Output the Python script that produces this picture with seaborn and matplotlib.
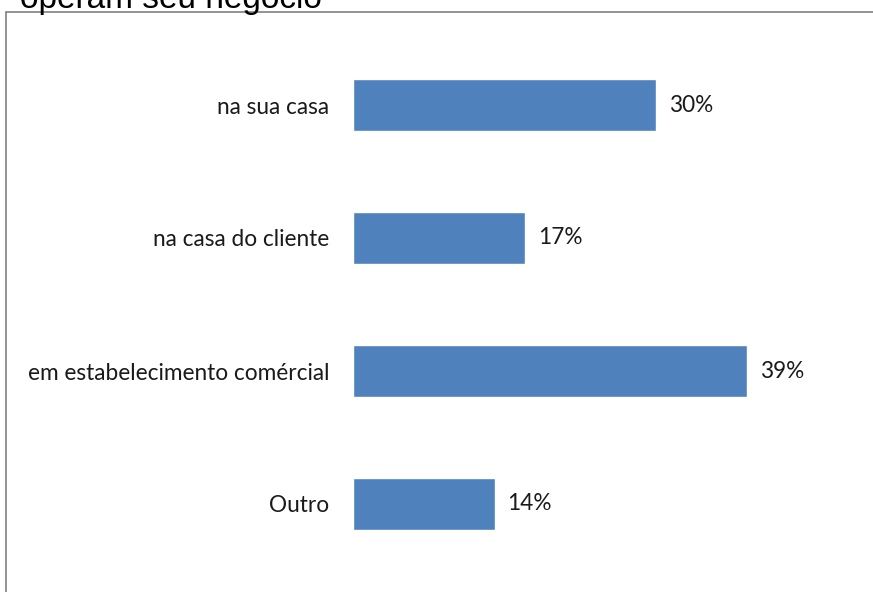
import matplotlib
matplotlib.use("Agg")
import matplotlib.pyplot as plt
import seaborn as sns
import pandas as pd
from matplotlib.patches import Rectangle

# data
categories = ["na sua casa", "na casa do cliente", "em estabelecimento comércial", "Outro"]
values = [30, 17, 39, 14]
value_labels = ["30%", "17%", "39%", "14%"]
title = "operam seu negócio"

df = pd.DataFrame({"local": categories, "pct": values})

sns.set_theme(style="white")
plt.rcParams["font.family"] = ["Lato", "DejaVu Sans"]

W, H = 873, 592
fig = plt.figure(figsize=(W / 100, H / 100), dpi=100)
fig.patch.set_facecolor("white")

# plot area placed in pixel terms
ax = fig.add_axes([353 / W, 1 - 570.5 / H, 457 / W, 532 / H])
sns.barplot(data=df, x="pct", y="local", color="#4F81BD", saturation=1,
            width=0.39, orient="h", ax=ax)

ax.set_xlim(0, 45.2)
ax.set_ylim(3.5, -0.5)
ax.set_xlabel("")
ax.set_ylabel("")
ax.set_xticks([])
for s in ax.spines.values():
    s.set_visible(False)
ax.tick_params(axis="y", length=0, pad=17, labelsize=16.3, labelcolor="#1a1a1a")
ax.patch.set_alpha(0)

for i, (v, lab) in enumerate(zip(values, value_labels)):
    ax.annotate(lab, (v, i), xytext=(13, 0), textcoords="offset pixels",
                ha="left", va="center", fontsize=16.3, color="#1a1a1a")

# outer frame (cut off on right and bottom)
fig.patches.append(Rectangle((5.5 / W, -0.1), 1.2, 1 - 11.5 / H + 0.1,
                             transform=fig.transFigure, fill=False,
                             edgecolor="#808080", linewidth=1.2, zorder=0))

# title, mostly cut off at the top
fig.text(20 / W, 1 - 8 / H, title, fontsize=24, family=["Liberation Sans"],
         ha="left", va="baseline", color="black")

fig.savefig("out.png", dpi=100, facecolor="white")
